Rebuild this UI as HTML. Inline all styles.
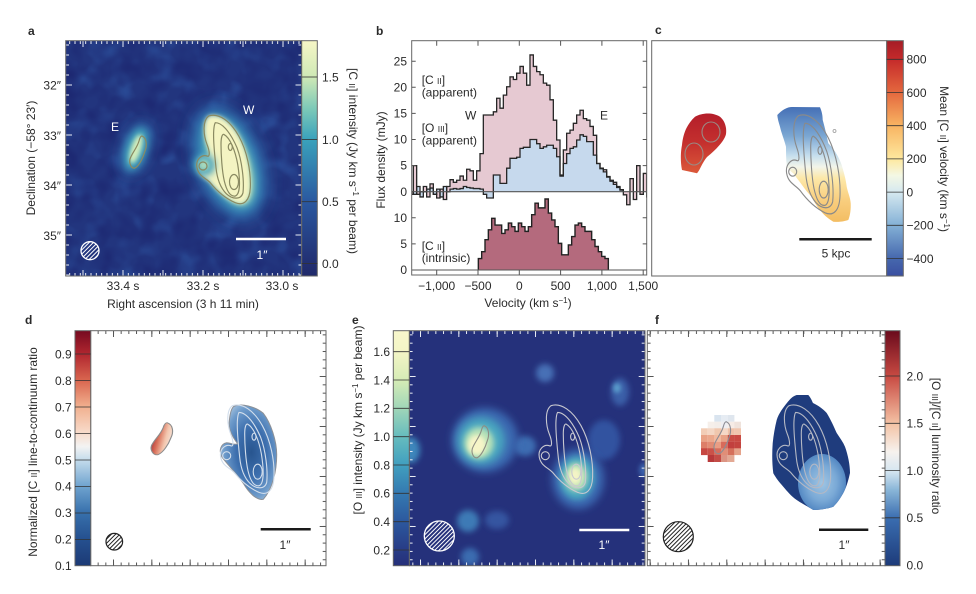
<!DOCTYPE html>
<html><head><meta charset="utf-8"><style>
body{margin:0;background:#fff}
svg{display:block}
text{font-family:"Liberation Sans",Arial,sans-serif;fill:#2a2a2a;font-size:12px}
</style></head><body>
<svg width="976" height="594" viewBox="0 0 976 594" xmlns="http://www.w3.org/2000/svg" xmlns:xlink="http://www.w3.org/1999/xlink">
<defs>
<linearGradient id="cbA" x1="0" y1="1" x2="0" y2="0">
<stop offset="0" stop-color="#202a6a"/><stop offset="0.053" stop-color="#222f72"/><stop offset="0.317" stop-color="#2a58a0"/><stop offset="0.582" stop-color="#3aa2bc"/><stop offset="0.71" stop-color="#7cc9b8"/><stop offset="0.847" stop-color="#cfe9b6"/><stop offset="1" stop-color="#f6f6c6"/>
</linearGradient>
<linearGradient id="cbC" x1="0" y1="1" x2="0" y2="0">
<stop offset="0" stop-color="#3a4fa0"/><stop offset="0.075" stop-color="#4668ae"/><stop offset="0.216" stop-color="#84b1d6"/><stop offset="0.357" stop-color="#d6e9f0"/><stop offset="0.427" stop-color="#f4f8e4"/><stop offset="0.498" stop-color="#fee89e"/><stop offset="0.639" stop-color="#f8b462"/><stop offset="0.78" stop-color="#e4683e"/><stop offset="0.921" stop-color="#c52a2a"/><stop offset="1" stop-color="#a51c26"/>
</linearGradient>
<linearGradient id="cbD" x1="0" y1="1" x2="0" y2="0">
<stop offset="0" stop-color="#1c3a75"/><stop offset="0.113" stop-color="#25508f"/><stop offset="0.225" stop-color="#3770ac"/><stop offset="0.338" stop-color="#6fa3cf"/><stop offset="0.451" stop-color="#c5dcec"/><stop offset="0.507" stop-color="#f3f3f3"/><stop offset="0.564" stop-color="#f8dccc"/><stop offset="0.676" stop-color="#f1b08f"/><stop offset="0.789" stop-color="#d9664f"/><stop offset="0.902" stop-color="#b0262f"/><stop offset="1" stop-color="#760a20"/>
</linearGradient>
<linearGradient id="cbE" x1="0" y1="1" x2="0" y2="0">
<stop offset="0" stop-color="#262f79"/><stop offset="0.067" stop-color="#283c86"/><stop offset="0.187" stop-color="#2c589e"/><stop offset="0.308" stop-color="#3479b1"/><stop offset="0.429" stop-color="#419fbf"/><stop offset="0.549" stop-color="#66bcbe"/><stop offset="0.67" stop-color="#a0d6b8"/><stop offset="0.79" stop-color="#d6ecb6"/><stop offset="0.911" stop-color="#f3f5c6"/><stop offset="1" stop-color="#f8f7cc"/>
</linearGradient>
<linearGradient id="cbF" x1="0" y1="1" x2="0" y2="0">
<stop offset="0" stop-color="#1d3b7a"/><stop offset="0.202" stop-color="#3a6db0"/><stop offset="0.323" stop-color="#8ab6d8"/><stop offset="0.403" stop-color="#d6e6f1"/><stop offset="0.484" stop-color="#f6f2ee"/><stop offset="0.605" stop-color="#f4c2a4"/><stop offset="0.806" stop-color="#c84a42"/><stop offset="1" stop-color="#6a0a1c"/>
</linearGradient>
<linearGradient id="gcW" gradientUnits="userSpaceOnUse" x1="0" y1="107" x2="0" y2="222">
<stop offset="0" stop-color="#4570b6"/><stop offset="0.25" stop-color="#7aa6d2"/><stop offset="0.42" stop-color="#c4dded"/><stop offset="0.52" stop-color="#f2f5ea"/><stop offset="0.62" stop-color="#fde8a8"/><stop offset="0.8" stop-color="#f9cf80"/><stop offset="1" stop-color="#f3bd62"/>
</linearGradient>
<linearGradient id="gcE" gradientUnits="userSpaceOnUse" x1="0" y1="112" x2="0" y2="174">
<stop offset="0" stop-color="#b31d2a"/><stop offset="0.5" stop-color="#c4302e"/><stop offset="1" stop-color="#dc5a3a"/>
</linearGradient>
<radialGradient id="gdW" cx="0.55" cy="0.5" r="0.6">
<stop offset="0" stop-color="#28558f"/><stop offset="0.45" stop-color="#3d6fae"/><stop offset="0.8" stop-color="#6f9ccb"/><stop offset="1" stop-color="#a9c4de"/>
</radialGradient>
<linearGradient id="gdE" x1="0" y1="0.3" x2="1" y2="0.7">
<stop offset="0" stop-color="#9e1f2e"/><stop offset="0.35" stop-color="#d8705a"/><stop offset="0.65" stop-color="#f3c6ae"/><stop offset="1" stop-color="#f7ece6"/>
</linearGradient>
<radialGradient id="gfW" cx="0.5" cy="0.5" r="0.55">
<stop offset="0" stop-color="#9fc5e3"/><stop offset="0.55" stop-color="#7aa9d6"/><stop offset="1" stop-color="#4a80be"/>
</radialGradient>
<pattern id="hw" width="3" height="3" patternUnits="userSpaceOnUse" patternTransform="rotate(-45)"><rect width="3" height="1" fill="#fff"/></pattern>
<pattern id="hk" width="3" height="3" patternUnits="userSpaceOnUse" patternTransform="rotate(-45)"><rect width="3" height="1" fill="#222"/></pattern>
<pattern id="tvW" patternUnits="userSpaceOnUse" x="122.5" y="0" width="5.333" height="600"><rect width="1" height="600" fill="#e8ecf4"/></pattern>
<pattern id="tvWM" patternUnits="userSpaceOnUse" x="122.5" y="0" width="40" height="600"><rect width="1" height="600" fill="#e8ecf4"/></pattern>
<pattern id="thW" patternUnits="userSpaceOnUse" x="0" y="84.5" width="600" height="10"><rect width="600" height="1" fill="#e8ecf4"/></pattern>
<pattern id="thWM" patternUnits="userSpaceOnUse" x="0" y="84.5" width="600" height="50"><rect width="600" height="1" fill="#e8ecf4"/></pattern>
<pattern id="tvE" patternUnits="userSpaceOnUse" x="420" y="0" width="7.67" height="600"><rect width="1" height="600" fill="#e8ecf4"/></pattern>
<pattern id="tvEM" patternUnits="userSpaceOnUse" x="420" y="0" width="38.33" height="600"><rect width="1" height="600" fill="#e8ecf4"/></pattern>
<pattern id="thE" patternUnits="userSpaceOnUse" x="0" y="376" width="600" height="8.33"><rect width="600" height="1" fill="#e8ecf4"/></pattern>
<pattern id="thEM" patternUnits="userSpaceOnUse" x="0" y="376" width="600" height="50"><rect width="600" height="1" fill="#e8ecf4"/></pattern>
<pattern id="tvK" patternUnits="userSpaceOnUse" x="113" y="0" width="7.67" height="600"><rect width="1" height="600" fill="#555"/></pattern>
<pattern id="tvKM" patternUnits="userSpaceOnUse" x="113" y="0" width="38.33" height="600"><rect width="1" height="600" fill="#555"/></pattern>
<pattern id="thK" patternUnits="userSpaceOnUse" x="0" y="376" width="600" height="8.33"><rect width="600" height="1" fill="#555"/></pattern>
<pattern id="thKM" patternUnits="userSpaceOnUse" x="0" y="376" width="600" height="50"><rect width="600" height="1" fill="#555"/></pattern>
<filter id="b2" x="-50%" y="-50%" width="200%" height="200%"><feGaussianBlur stdDeviation="2"/></filter>
<filter id="b3" x="-50%" y="-50%" width="200%" height="200%"><feGaussianBlur stdDeviation="3"/></filter>
<filter id="b4" x="-50%" y="-50%" width="200%" height="200%"><feGaussianBlur stdDeviation="4"/></filter>
<filter id="b6" x="-50%" y="-50%" width="200%" height="200%"><feGaussianBlur stdDeviation="6"/></filter>
<filter id="b8" x="-50%" y="-50%" width="200%" height="200%"><feGaussianBlur stdDeviation="8"/></filter>
<filter id="noiseL" x="0" y="0" width="1" height="1" color-interpolation-filters="sRGB">
<feTurbulence type="fractalNoise" baseFrequency="0.045" numOctaves="2" seed="7"/>
<feColorMatrix type="matrix" values="0 0 0 0 0.18  0 0 0 0 0.34  0 0 0 0 0.64  1.9 0 0 0 -0.9"/>
</filter>
<filter id="noiseD" x="0" y="0" width="1" height="1" color-interpolation-filters="sRGB">
<feTurbulence type="fractalNoise" baseFrequency="0.05" numOctaves="2" seed="19"/>
<feColorMatrix type="matrix" values="0 0 0 0 0.11  0 0 0 0 0.15  0 0 0 0 0.44  0 1.8 0 0 -0.65"/>
</filter>
<clipPath id="clA"><rect x="65.7" y="40.7" width="236" height="235.3"/></clipPath>
<clipPath id="clB"><rect x="411.7" y="40.7" width="235" height="234.3"/></clipPath>
<clipPath id="clE"><rect x="409.3" y="330.7" width="235.7" height="235"/></clipPath>
<path id="pWo" d="M141.7,75 C151.7,71.7 163.3,80 171.7,95 C180,110 184,130 183.3,146.7 C182.7,160 176.7,165 168.3,161.7 C158.3,157.3 150,150 143.3,141.7 C138.3,136.7 131.7,135 130,126.7 C128.3,118.3 135,113.3 140,115 C143.3,116.7 142.7,110 140,103.3 C136.7,95 135,80 141.7,75 Z"/>
<path id="pE" d="M75,95 C80,97 80,105 78,110 C76,117 72,125 68,127 C64,128 62,122 63,118 C65,112 70,107 72,100 C73,96 74,95 75,95 Z"/>
<g id="cW" fill="none">
<use xlink:href="#pWo"/>
<path d="M148.3,81.7 C156.7,81.7 165,95 170,106.7 C175,120 177.3,140 176,151.7 C174,159.3 165,158.3 159.3,152.7 C153.3,146.7 150,136.7 149,126.7 C148,116.7 146,100 146.7,90 C147,85 147.7,82.7 148.3,81.7 Z"/>
<path d="M156.7,93.3 C163.3,96.7 168.3,110 170.7,123.3 C173.3,140 173.3,153.3 168.3,155 C162.7,156 159.3,148.3 157.3,140 C155,130 154,113.3 154,103.3 C154,97.3 155,93.3 156.7,93.3 Z"/>
<ellipse cx="163.3" cy="106" rx="2" ry="3.5"/>
<ellipse cx="167" cy="141" rx="4.5" ry="7.5"/>
<circle cx="136" cy="125" r="4"/>
</g>
<clipPath id="clFW"><path d="M796.7,395 L808.3,395 C811,398 812,401 813,403 C819,406 823,409 826.7,413 C831,420 834,427 836.7,433 C840,438 843,442 845,446.7 C848,455 850,465 850,473 C848,482 846,488 843.3,493 C840,499 837,503 833.3,506.7 C826,509 820,510 813.3,510 C807,506 801,503 796.7,500 C791,496 787,491 783.3,486.7 C779,482 776,478 773.3,473.3 C772,463 772,453 772.7,443.3 C773.5,435 775,427 776.7,420 C779,413 783,408 786.7,403.3 C790,399 793,396 796.7,395 Z"/></clipPath>
</defs>

<rect width="976" height="594" fill="#fff"/>

<!-- ============ PANEL A ============ -->
<text x="28" y="35" font-weight="bold" font-size="13">a</text>
<g clip-path="url(#clA)">
<rect x="65.7" y="40.7" width="236" height="235.3" fill="#22357e"/>
<rect x="65.7" y="40.7" width="236" height="235.3" fill="#000" filter="url(#noiseL)"/>
<rect x="65.7" y="40.7" width="236" height="235.3" fill="#000" filter="url(#noiseD)"/>
<ellipse cx="229" cy="163" rx="34" ry="60" transform="rotate(-20 229 163)" fill="#2f66aa" filter="url(#b8)"/>
<ellipse cx="229" cy="163" rx="26" ry="51" transform="rotate(-20 229 163)" fill="#3c9dbd" filter="url(#b6)"/>
<ellipse cx="230" cy="163" rx="19" ry="44" transform="rotate(-20 230 163)" fill="#a5d9b9" filter="url(#b4)"/>
<use xlink:href="#pWo" transform="translate(67,41)" fill="#f4f4c2" filter="url(#b2)"/>
<circle cx="204" cy="165" r="11" fill="#3c9dbd" filter="url(#b4)"/>
<circle cx="204" cy="165" r="5.5" fill="#a8dabb" filter="url(#b2)"/>
<ellipse cx="136" cy="149" rx="14" ry="28" transform="rotate(18 136 149)" fill="#2f66aa" filter="url(#b6)"/>
<ellipse cx="136" cy="149" rx="10" ry="22" transform="rotate(18 136 149)" fill="#45a8bd" filter="url(#b4)"/>
<ellipse cx="136" cy="149" rx="5" ry="15" transform="rotate(18 136 149)" fill="#d2ecbc" filter="url(#b2)"/>
<use xlink:href="#cW" transform="translate(67,41)" stroke="#8a8a62" stroke-width="1.2"/>
<use xlink:href="#pE" transform="translate(67,41)" fill="none" stroke="#8a8a62" stroke-width="1.2"/>
<circle cx="90" cy="250.7" r="9" fill="url(#hw)" stroke="#fff" stroke-width="1.3"/>
<line x1="236" y1="239" x2="286" y2="239" stroke="#fff" stroke-width="2.5"/>
</g>
<text x="262" y="259" text-anchor="middle" style="fill:#fff">1″</text>
<text x="111" y="131" style="fill:#fff">E</text>
<text x="243" y="114" style="fill:#fff">W</text>
<rect x="65.7" y="41" width="236" height="3" fill="url(#tvW)"/>
<rect x="65.7" y="41" width="236" height="6" fill="url(#tvWM)"/>
<rect x="65.7" y="273" width="236" height="3" fill="url(#tvW)"/>
<rect x="65.7" y="270" width="236" height="6" fill="url(#tvWM)"/>
<rect x="66" y="40.7" width="3" height="235" fill="url(#thW)"/>
<rect x="66" y="40.7" width="6" height="235" fill="url(#thWM)"/>
<rect x="298.5" y="40.7" width="3" height="235" fill="url(#thW)"/>
<rect x="295.5" y="40.7" width="6" height="235" fill="url(#thWM)"/>
<rect x="65.7" y="40.7" width="236" height="235.3" fill="none" stroke="#666" stroke-width="1"/>
<rect x="301.7" y="40.7" width="15.6" height="235.3" fill="url(#cbA)" stroke="#666" stroke-width="1"/>
<g stroke="#333" stroke-width="0.8"><line x1="301.7" y1="77" x2="317.3" y2="77"/><line x1="301.7" y1="139.5" x2="317.3" y2="139.5"/><line x1="301.7" y1="201.7" x2="317.3" y2="201.7"/><line x1="301.7" y1="263.5" x2="317.3" y2="263.5"/></g>
<text x="322" y="81.3">1.5</text><text x="322" y="143.8">1.0</text><text x="322" y="206">0.5</text><text x="322" y="267.8">0.0</text>
<text transform="translate(349,161) rotate(90)" text-anchor="middle">[C <tspan font-size="8.5">II</tspan>] intensity (Jy km s<tspan dy="-4" font-size="8">−1</tspan><tspan dy="4"> per beam)</tspan></text>
<text x="61" y="89.3" text-anchor="end">32″</text><text x="61" y="140" text-anchor="end">33″</text><text x="61" y="190" text-anchor="end">34″</text><text x="61" y="240" text-anchor="end">35″</text>
<text x="123" y="290" text-anchor="middle">33.4 s</text><text x="203" y="290" text-anchor="middle">33.2 s</text><text x="282" y="290" text-anchor="middle">33.0 s</text>
<text x="183" y="308" text-anchor="middle">Right ascension (3 h 11 min)</text>
<text transform="translate(35,158) rotate(-90)" text-anchor="middle">Declination (−58° 23′)</text>

<!-- ============ PANEL B ============ -->
<text x="376" y="35" font-weight="bold" font-size="13">b</text>
<g clip-path="url(#clB)">
<path transform="matrix(3.3333,0,0,-5.22,410,191.7)" fill="#e6c9d2" d="M0,0 V-0.5 H1 V5 H2 V-0.5 H3 V0 H4 V1 H5 V-1 H6 V1.5 H7 V-0.5 H8 V-1.2 H9 V0.5 H10 V-1.5 H11 V1 H12 V2.3 H13 V1.8 H14 V2.2 H15 V3 H16 V2.2 H17 V4.3 H18 V4 H19 V2.2 H20 V4 H21 V7.3 H22 V14.7 H25 V15.3 H26 V17.9 H27 V16 H28 V18.5 H29 V20.1 H30 V22 H31 V21.5 H32 V22.7 H33 V24 H34 V22.7 H35 V20.4 H36 V26.2 H37 V24 H38 V23 H39 V22.4 H40 V20.8 H41 V20.4 H42 V17.6 H43 V13.7 H44 V9.9 H45 V3.2 H46 V8 H47 V11.2 H48 V11.8 H49 V13.1 H50 V14.7 H51 V15.6 H52 V14 H53 V13.7 H54 V12.5 H55 V10.8 H56 V5.4 H57 V4.5 H58 V4.2 H59 V2.9 H60 V2.2 H61 V1.8 H62 V1 H63 V0.4 H64 V-0.6 H65 V-2.5 H66 V2.5 H67 V-1.5 H68 V5 H69 V-0.5 H70 V3.5 H71 V-1 H72 V0 Z"/>
<path transform="matrix(3.3333,0,0,-5.22,410,191.7)" fill="#c6d9ed" d="M0,0 H1 V-0.5 H2 V1 H3 V-1 H4 V0 H5 V0.5 H6 V0.7 H7 V-0.5 H8 V0.5 H9 V-1 H10 V1 H11 V0 H12 V0.5 H13 V0.6 H14 V0.5 H15 V0.6 H16 V1 H17 V0.8 H18 V0.7 H19 V0.6 H21 V0.5 H22 V-0.5 H23 V-1.2 H25 V3.2 H27 V1.6 H29 V4.5 H30 V6.4 H32 V6.6 H33 V8.3 H34 V8.5 H36 V10 H38 V9.2 H39 V8.3 H40 V8.6 H41 V8.9 H43 V8.3 H44 V6.7 H45 V3 H46 V5.4 H47 V7.3 H48 V8.3 H49 V8.6 H50 V9.9 H51 V10.9 H52 V10.6 H53 V9.6 H55 V7 H56 V5.4 H57 V4.4 H58 V3.8 H59 V2.8 H60 V2 H61 V1.4 H62 V0.8 H63 V0.3 H64 V0 H72 Z"/>
<path transform="matrix(3.3333,0,0,-5.22,410,191.7)" fill="none" stroke="#262626" stroke-width="1.3" vector-effect="non-scaling-stroke" d="M0,0 V-0.5 H1 V5 H2 V-0.5 H3 V0 H4 V1 H5 V-1 H6 V1.5 H7 V-0.5 H8 V-1.2 H9 V0.5 H10 V-1.5 H11 V1 H12 V2.3 H13 V1.8 H14 V2.2 H15 V3 H16 V2.2 H17 V4.3 H18 V4 H19 V2.2 H20 V4 H21 V7.3 H22 V14.7 H25 V15.3 H26 V17.9 H27 V16 H28 V18.5 H29 V20.1 H30 V22 H31 V21.5 H32 V22.7 H33 V24 H34 V22.7 H35 V20.4 H36 V26.2 H37 V24 H38 V23 H39 V22.4 H40 V20.8 H41 V20.4 H42 V17.6 H43 V13.7 H44 V9.9 H45 V3.2 H46 V8 H47 V11.2 H48 V11.8 H49 V13.1 H50 V14.7 H51 V15.6 H52 V14 H53 V13.7 H54 V12.5 H55 V10.8 H56 V5.4 H57 V4.5 H58 V4.2 H59 V2.9 H60 V2.2 H61 V1.8 H62 V1 H63 V0.4 H64 V-0.6 H65 V-2.5 H66 V2.5 H67 V-1.5 H68 V5 H69 V-0.5 H70 V3.5 H71 V-1 H72 V0"/>
<path transform="matrix(3.3333,0,0,-5.22,410,191.7)" fill="none" stroke="#262626" stroke-width="1.3" vector-effect="non-scaling-stroke" d="M0,0 H1 V-0.5 H2 V1 H3 V-1 H4 V0 H5 V0.5 H6 V0.7 H7 V-0.5 H8 V0.5 H9 V-1 H10 V1 H11 V0 H12 V0.5 H13 V0.6 H14 V0.5 H15 V0.6 H16 V1 H17 V0.8 H18 V0.7 H19 V0.6 H21 V0.5 H22 V-0.5 H23 V-1.2 H25 V3.2 H27 V1.6 H29 V4.5 H30 V6.4 H32 V6.6 H33 V8.3 H34 V8.5 H36 V10 H38 V9.2 H39 V8.3 H40 V8.6 H41 V8.9 H43 V8.3 H44 V6.7 H45 V3 H46 V5.4 H47 V7.3 H48 V8.3 H49 V8.6 H50 V9.9 H51 V10.9 H52 V10.6 H53 V9.6 H55 V7 H56 V5.4 H57 V4.4 H58 V3.8 H59 V2.8 H60 V2 H61 V1.4 H62 V0.8 H63 V0.3 H64 V0"/>
<path transform="matrix(3.3333,0,0,-5.22,410,270)" fill="#b46a7d" d="M20.5,0 V2.2 H21.5 V3.5 H22.5 V5.8 H23.5 V7.7 H24.5 V9.9 H25.5 V8.6 H27.5 V7 H28.5 V7.7 H29.5 V9 H30.5 V8.3 H31.5 V7.4 H32.5 V9 H33.5 V8.3 H34.5 V7.4 H35.5 V8.3 H36.5 V10.6 H37.5 V12.8 H38.5 V11.9 H40.5 V13.6 H41.5 V10.9 H42.5 V9.6 H43.5 V8.3 H44.5 V5.1 H45.5 V2.9 H47.5 V4.8 H48.5 V6.4 H49.5 V8.6 H50.5 V9 H51.5 V8.3 H52.5 V7.4 H54.5 V5.8 H55.5 V4.5 H56.5 V3.5 H57.5 V2.6 H58.5 V2.2 H59.5 V0 Z"/>
<path transform="matrix(3.3333,0,0,-5.22,410,270)" fill="none" stroke="#222" stroke-width="1.4" vector-effect="non-scaling-stroke" d="M20.5,0 V2.2 H21.5 V3.5 H22.5 V5.8 H23.5 V7.7 H24.5 V9.9 H25.5 V8.6 H27.5 V7 H28.5 V7.7 H29.5 V9 H30.5 V8.3 H31.5 V7.4 H32.5 V9 H33.5 V8.3 H34.5 V7.4 H35.5 V8.3 H36.5 V10.6 H37.5 V12.8 H38.5 V11.9 H40.5 V13.6 H41.5 V10.9 H42.5 V9.6 H43.5 V8.3 H44.5 V5.1 H45.5 V2.9 H47.5 V4.8 H48.5 V6.4 H49.5 V8.6 H50.5 V9 H51.5 V8.3 H52.5 V7.4 H54.5 V5.8 H55.5 V4.5 H56.5 V3.5 H57.5 V2.6 H58.5 V2.2 H59.5 V0"/>
</g>
<line x1="411.7" y1="191.7" x2="646.7" y2="191.7" stroke="#555" stroke-width="1.2"/>
<line x1="411.7" y1="270" x2="646.7" y2="270" stroke="#555" stroke-width="1"/>
<rect x="411.7" y="40.7" width="235" height="234.3" fill="none" stroke="#666" stroke-width="1"/>
<g stroke="#555" stroke-width="1">
<path d="M436.7,40.7 v5 M478,40.7 v5 M519.3,40.7 v5 M560.6,40.7 v5 M601.9,40.7 v5 M643.2,40.7 v5"/>
<path d="M436.7,275 v-5 M478,275 v-5 M519.3,275 v-5 M560.6,275 v-5 M601.9,275 v-5 M643.2,275 v-5"/>
<path d="M411.7,61.2 h4 M411.7,87.3 h4 M411.7,113.4 h4 M411.7,139.5 h4 M411.7,165.6 h4 M411.7,217.8 h4 M411.7,243.9 h4"/>
<path d="M646.7,61.2 h-4 M646.7,87.3 h-4 M646.7,113.4 h-4 M646.7,139.5 h-4 M646.7,165.6 h-4 M646.7,217.8 h-4 M646.7,243.9 h-4"/>
</g>
<text x="407" y="65.3" text-anchor="end">25</text><text x="407" y="91.4" text-anchor="end">20</text><text x="407" y="117.5" text-anchor="end">15</text><text x="407" y="143.6" text-anchor="end">10</text><text x="407" y="169.7" text-anchor="end">5</text><text x="407" y="195.8" text-anchor="end">0</text>
<text x="407" y="222" text-anchor="end">10</text><text x="407" y="248" text-anchor="end">5</text><text x="407" y="274.2" text-anchor="end">0</text>
<text x="436.7" y="290" text-anchor="middle">−1,000</text><text x="478" y="290" text-anchor="middle">−500</text><text x="519.3" y="290" text-anchor="middle">0</text><text x="560.6" y="290" text-anchor="middle">500</text><text x="601.9" y="290" text-anchor="middle">1,000</text><text x="643.2" y="290" text-anchor="middle">1,500</text>
<text x="528" y="307" text-anchor="middle">Velocity (km s<tspan dy="-4" font-size="8">−1</tspan><tspan dy="4">)</tspan></text>
<text transform="translate(385,160) rotate(-90)" text-anchor="middle">Flux density (mJy)</text>
<text x="421.7" y="84">[C <tspan font-size="8.5">II</tspan>]</text>
<text x="421.7" y="96.5">(apparent)</text>
<text x="465" y="119.5">W</text>
<text x="421.7" y="132">[O <tspan font-size="8.5">III</tspan>]</text>
<text x="421.7" y="144.5">(apparent)</text>
<text x="600" y="119.5">E</text>
<text x="421.7" y="250">[C <tspan font-size="8.5">II</tspan>]</text>
<text x="421.7" y="262">(intrinsic)</text>

<!-- ============ PANEL C ============ -->
<text x="655" y="34" font-weight="bold" font-size="13">c</text>
<rect x="651.7" y="40.7" width="235" height="235.3" fill="#fff" stroke="#666" stroke-width="1"/>
<path fill="url(#gcE)" d="M695,116.7 C702,113 712,112 720,116.7 C724,120 727,126 726,134 C725,140 716,150 707,157 C702,163 700,170 697,173.3 L682,170 C680,160 681,150 682,145 C683,135 686,125 695,116.7 Z"/>
<path fill="url(#gcW)" d="M777.3,115 C782,110 787,107 792,107 L820,107.3 C822,112 822.7,116 822.7,120 C825,128 827,137 828.3,143.3 C835,150 839,158 841.7,165 C844,173 846,180 846.7,186.7 C848,193 850.5,198 850.7,203.3 C851,210 850,216 848.3,220 C842,222 838,222 833.3,221.7 C827,218 823,214 820,210 C816,205 813,200 811.7,196.7 C807,192 805,189 803.3,186.7 C799,181 796,177 793.3,173.3 C789,170 787,167 786.7,165 C786,158 786,152 786,146.7 C784,139 781,132 780,126.7 C778.5,122 777.5,118 777.3,115 Z"/>
<use xlink:href="#cW" transform="matrix(1,0,0,1.12,656.7,31.7)" stroke="#8a8a8a" stroke-width="1.1"/>
<g fill="none" stroke="#9a8a84" stroke-width="1.1"><ellipse cx="711" cy="132" rx="9" ry="10"/><ellipse cx="694" cy="154" rx="9" ry="11"/></g>
<circle cx="834.5" cy="131" r="1.5" fill="none" stroke="#999" stroke-width="0.8"/>
<line x1="799.3" y1="239.3" x2="871.7" y2="239.3" stroke="#1a1a1a" stroke-width="2.5"/>
<text x="836" y="257.5" text-anchor="middle">5 kpc</text>
<rect x="886.7" y="40.7" width="16.6" height="235.3" fill="url(#cbC)" stroke="#666" stroke-width="1"/>
<g stroke="#333" stroke-width="0.8"><path d="M886.7,59.3 h16.6 M886.7,92.5 h16.6 M886.7,125.7 h16.6 M886.7,158.9 h16.6 M886.7,192.1 h16.6 M886.7,225.3 h16.6 M886.7,258.5 h16.6"/></g>
<text x="906.5" y="63.6">800</text><text x="906.5" y="96.8">600</text><text x="906.5" y="130">400</text><text x="906.5" y="163.2">200</text><text x="906.5" y="196.4">0</text><text x="906.5" y="229.6">−200</text><text x="906.5" y="262.8">−400</text>
<text transform="translate(940,159) rotate(90)" text-anchor="middle">Mean [C <tspan font-size="8.5">II</tspan>] velocity (km s<tspan dy="-4" font-size="8">−1</tspan><tspan dy="4">)</tspan></text>

<!-- ============ PANEL D ============ -->
<text x="25" y="324" font-weight="bold" font-size="13">d</text>
<rect x="90.7" y="330.7" width="235.3" height="235" fill="#fff"/>
<path transform="translate(90.7,330.7)" fill="url(#gdW)" stroke="#8c9096" stroke-width="1" d="M142.7,76 C150,72 165,76 172.6,82.6 C180,92 186,110 186,124 C186,140 182,158 172.6,168.6 C166,170 158,162 152.6,152.6 C146,143 136,133 131,126 C128,120 130,113 136,112 C140,112 144,115 147,113 C143,108 138,100 138.5,92 C139,84 140,79 142.7,76 Z"/>
<use xlink:href="#cW" transform="translate(90.7,330.7)" stroke="#d2deec" stroke-width="1.1"/>
<use xlink:href="#pE" transform="translate(90.7,327.7) translate(70.5,0) scale(1.3,1) translate(-70.5,0)" fill="url(#gdE)" stroke="#8c8c8c" stroke-width="0.9"/>
<circle cx="114.3" cy="541.7" r="8.3" fill="url(#hk)" stroke="#222" stroke-width="1.2"/>
<line x1="260.7" y1="529.3" x2="310.7" y2="529.3" stroke="#1a1a1a" stroke-width="2.5"/>
<text x="285" y="549" text-anchor="middle">1″</text>
<rect x="90.7" y="331" width="235.3" height="3" fill="url(#tvK)"/>
<rect x="90.7" y="331" width="235.3" height="6" fill="url(#tvKM)"/>
<rect x="90.7" y="562.5" width="235.3" height="3" fill="url(#tvK)"/>
<rect x="90.7" y="559.5" width="235.3" height="6" fill="url(#tvKM)"/>
<rect x="322.7" y="330.7" width="3" height="235" fill="url(#thK)"/>
<rect x="319.7" y="330.7" width="6" height="235" fill="url(#thKM)"/>
<rect x="90.7" y="330.7" width="235.3" height="235" fill="none" stroke="#666" stroke-width="1"/>
<rect x="75" y="330.7" width="15.7" height="235" fill="url(#cbD)" stroke="#666" stroke-width="1"/>
<g stroke="#333" stroke-width="0.8"><path d="M75,354 h15.7 M75,380.5 h15.7 M75,407 h15.7 M75,433.5 h15.7 M75,460 h15.7 M75,486.5 h15.7 M75,513 h15.7 M75,539.5 h15.7"/></g>
<text x="71.7" y="358.3" text-anchor="end">0.9</text><text x="71.7" y="385" text-anchor="end">0.8</text><text x="71.7" y="411.6" text-anchor="end">0.7</text><text x="71.7" y="437.8" text-anchor="end">0.6</text><text x="71.7" y="464.3" text-anchor="end">0.5</text><text x="71.7" y="490.3" text-anchor="end">0.4</text><text x="71.7" y="517" text-anchor="end">0.3</text><text x="71.7" y="543.6" text-anchor="end">0.2</text><text x="71.7" y="570" text-anchor="end">0.1</text>
<text transform="translate(37,452) rotate(-90)" text-anchor="middle">Normalized [C <tspan font-size="8.5">II</tspan>] line-to-continuum ratio</text>

<!-- ============ PANEL E ============ -->
<text x="352" y="324" font-weight="bold" font-size="13">e</text>
<g clip-path="url(#clE)">
<rect x="409.3" y="330.7" width="235.7" height="235" fill="#25317b"/>
<ellipse cx="545" cy="373" rx="9" ry="9" fill="#4670b6" filter="url(#b3)"/>
<ellipse cx="620" cy="392" rx="9" ry="14" fill="#3b5fa8" filter="url(#b3)"/>
<ellipse cx="617" cy="388" rx="4" ry="5" fill="#5a9ccc" filter="url(#b2)"/>
<ellipse cx="604" cy="440" rx="16" ry="20" fill="#3152a0" filter="url(#b3)"/>
<ellipse cx="411" cy="450" rx="9" ry="13" fill="#3e86bb" filter="url(#b3)"/>
<ellipse cx="468" cy="521" rx="11" ry="11" fill="#3d7ab6" filter="url(#b3)"/>
<ellipse cx="497" cy="520" rx="12" ry="9" fill="#3455a0" filter="url(#b3)"/>
<ellipse cx="470" cy="557" rx="9" ry="9" fill="#3a6cb0" filter="url(#b3)"/>
<ellipse cx="644" cy="470" rx="5" ry="7" fill="#3a62ac" filter="url(#b2)"/>
<ellipse cx="525" cy="446" rx="11" ry="10" fill="#3d6db2" filter="url(#b3)"/>
<ellipse cx="485" cy="440" rx="33" ry="32" fill="#3b68b0" filter="url(#b4)"/>
<ellipse cx="481" cy="441" rx="24" ry="24" fill="#48a6c0" filter="url(#b4)"/>
<ellipse cx="479" cy="443" rx="15" ry="16" fill="#b8e2b8" filter="url(#b3)"/>
<ellipse cx="477" cy="445" rx="9" ry="10" fill="#f6f5c8" filter="url(#b2)"/>
<ellipse cx="578" cy="479" rx="26" ry="30" fill="#3b68b0" filter="url(#b4)"/>
<ellipse cx="577" cy="478" rx="18" ry="22" fill="#48a6c0" filter="url(#b3)"/>
<ellipse cx="576" cy="477" rx="11" ry="14" fill="#c4e6b6" filter="url(#b3)"/>
<ellipse cx="575" cy="476" rx="6" ry="8" fill="#f4f4c6" filter="url(#b2)"/>
<use xlink:href="#cW" transform="translate(409.3,330.7)" stroke="#c8c8d0" stroke-width="1.1"/>
<use xlink:href="#pE" transform="translate(409.3,330.7)" fill="none" stroke="#8e8e84" stroke-width="1.1"/>
<circle cx="439.3" cy="536" r="15" fill="url(#hw)" stroke="#fff" stroke-width="1.3"/>
<line x1="579.3" y1="530" x2="629.3" y2="530" stroke="#fff" stroke-width="2.5"/>
</g>
<text x="604" y="549" text-anchor="middle" style="fill:#fff">1″</text>
<rect x="409.3" y="331" width="235.7" height="3" fill="url(#tvE)"/>
<rect x="409.3" y="331" width="235.7" height="6" fill="url(#tvEM)"/>
<rect x="409.3" y="562.5" width="235.7" height="3" fill="url(#tvE)"/>
<rect x="409.3" y="559.5" width="235.7" height="6" fill="url(#tvEM)"/>
<rect x="409.6" y="330.7" width="3" height="235" fill="url(#thE)"/>
<rect x="409.6" y="330.7" width="6" height="235" fill="url(#thEM)"/>
<rect x="641.7" y="330.7" width="3" height="235" fill="url(#thE)"/>
<rect x="638.7" y="330.7" width="6" height="235" fill="url(#thEM)"/>
<rect x="409.3" y="330.7" width="235.7" height="235" fill="none" stroke="#666" stroke-width="1"/>
<rect x="393.3" y="330.7" width="16" height="235" fill="url(#cbE)" stroke="#666" stroke-width="1"/>
<g stroke="#333" stroke-width="0.8"><path d="M393.3,351.7 h16 M393.3,380 h16 M393.3,408.3 h16 M393.3,436.7 h16 M393.3,465 h16 M393.3,493.3 h16 M393.3,521.7 h16 M393.3,550 h16"/></g>
<text x="390" y="356" text-anchor="end">1.6</text><text x="390" y="384.3" text-anchor="end">1.4</text><text x="390" y="412.6" text-anchor="end">1.2</text><text x="390" y="441" text-anchor="end">1.0</text><text x="390" y="469.3" text-anchor="end">0.8</text><text x="390" y="497.6" text-anchor="end">0.6</text><text x="390" y="526" text-anchor="end">0.4</text><text x="390" y="554.3" text-anchor="end">0.2</text>
<text transform="translate(362,420) rotate(-90)" text-anchor="middle">[O <tspan font-size="8.5">III</tspan>] intensity (Jy km s<tspan dy="-4" font-size="8">−1</tspan><tspan dy="4"> per beam)</tspan></text>

<!-- ============ PANEL F ============ -->
<text x="655" y="324" font-weight="bold" font-size="13">f</text>
<rect x="647.3" y="330.7" width="237.7" height="235" fill="#fff"/>
<g>
<rect x="714.3" y="415" width="6.7" height="6.8" fill="#d9e4ef"/><rect x="721" y="415" width="6.7" height="6.8" fill="#e6ecf3"/><rect x="727.7" y="415" width="6.7" height="6.8" fill="#dfe6ee"/>
<rect x="707.7" y="421.7" width="6.7" height="6.8" fill="#f6efea"/><rect x="714.3" y="421.7" width="6.7" height="6.8" fill="#f3ede9"/><rect x="721" y="421.7" width="6.7" height="6.8" fill="#eeeef2"/><rect x="727.7" y="421.7" width="6.7" height="6.8" fill="#f6ece6"/><rect x="734.3" y="421.7" width="6.7" height="6.8" fill="#efe3dc"/>
<rect x="701" y="428.3" width="6.7" height="6.8" fill="#f2cdb6"/><rect x="707.7" y="428.3" width="6.7" height="6.8" fill="#f4d6c4"/><rect x="714.3" y="428.3" width="6.7" height="6.8" fill="#f0c7ae"/><rect x="721" y="428.3" width="6.7" height="6.8" fill="#f5d8c6"/><rect x="727.7" y="428.3" width="6.7" height="6.8" fill="#efc1a8"/><rect x="734.3" y="428.3" width="6.7" height="6.8" fill="#f0c6ae"/>
<rect x="701" y="435" width="6.7" height="6.8" fill="#e9a285"/><rect x="707.7" y="435" width="6.7" height="6.8" fill="#eba88c"/><rect x="714.3" y="435" width="6.7" height="6.8" fill="#f1b99f"/><rect x="721" y="435" width="6.7" height="6.8" fill="#e8a286"/><rect x="727.7" y="435" width="6.7" height="6.8" fill="#c94d45"/><rect x="734.3" y="435" width="6.7" height="6.8" fill="#c94a43"/>
<rect x="701" y="441.7" width="6.7" height="6.8" fill="#dd7e68"/><rect x="707.7" y="441.7" width="6.7" height="6.8" fill="#e28c74"/><rect x="714.3" y="441.7" width="6.7" height="6.8" fill="#e99d84"/><rect x="721" y="441.7" width="6.7" height="6.8" fill="#d86b5a"/><rect x="727.7" y="441.7" width="6.7" height="6.8" fill="#c2403e"/><rect x="734.3" y="441.7" width="6.7" height="6.8" fill="#c4443f"/>
<rect x="701" y="448.3" width="6.7" height="6.8" fill="#c74842"/><rect x="707.7" y="448.3" width="6.7" height="6.8" fill="#cb5249"/><rect x="714.3" y="448.3" width="6.7" height="6.8" fill="#d66e5d"/><rect x="721" y="448.3" width="6.7" height="6.8" fill="#e18e77"/><rect x="727.7" y="448.3" width="6.7" height="6.8" fill="#d5705c"/><rect x="734.3" y="448.3" width="6.7" height="6.8" fill="#e5a38b"/>
<rect x="707.7" y="455" width="6.7" height="7" fill="#b8393a"/><rect x="714.3" y="455" width="6.7" height="7" fill="#c44c46"/><rect x="721" y="455" width="6.7" height="7" fill="#dc9483"/><rect x="727.7" y="455" width="6.7" height="7" fill="#e3a994"/>
</g>
<rect x="770" y="393" width="82" height="120" fill="#1f3c7d" clip-path="url(#clFW)"/>
<ellipse cx="822" cy="483" rx="24" ry="29" fill="url(#gfW)" clip-path="url(#clFW)"/>
<use xlink:href="#cW" transform="translate(647.3,330.7)" stroke="#b4b8c4" stroke-width="1.1"/>
<use xlink:href="#pE" transform="translate(651.3,326.7)" fill="none" stroke="#8c8c94" stroke-width="1.1"/>
<circle cx="678.3" cy="536.7" r="15" fill="url(#hk)" stroke="#222" stroke-width="1.2"/>
<line x1="819" y1="529.7" x2="868.3" y2="529.7" stroke="#1a1a1a" stroke-width="2.5"/>
<text x="844" y="549" text-anchor="middle">1″</text>
<rect x="647.3" y="331" width="237.7" height="3" fill="url(#tvK)"/>
<rect x="647.3" y="331" width="237.7" height="6" fill="url(#tvKM)"/>
<rect x="647.3" y="562.5" width="237.7" height="3" fill="url(#tvK)"/>
<rect x="647.3" y="559.5" width="237.7" height="6" fill="url(#tvKM)"/>
<rect x="647.6" y="330.7" width="3" height="235" fill="url(#thK)"/>
<rect x="647.6" y="330.7" width="6" height="235" fill="url(#thKM)"/>
<rect x="881.7" y="330.7" width="3" height="235" fill="url(#thK)"/>
<rect x="878.7" y="330.7" width="6" height="235" fill="url(#thKM)"/>
<rect x="647.3" y="330.7" width="237.7" height="235" fill="none" stroke="#666" stroke-width="1"/>
<rect x="885" y="330.7" width="15" height="235" fill="url(#cbF)" stroke="#666" stroke-width="1"/>
<g stroke="#333" stroke-width="0.8"><path d="M885,376 h15 M885,423.3 h15 M885,470.5 h15 M885,517.8 h15"/></g>
<text x="906.5" y="380.3">2.0</text><text x="906.5" y="427.6">1.5</text><text x="906.5" y="474.8">1.0</text><text x="906.5" y="522">0.5</text><text x="906.5" y="569.3">0.0</text>
<text transform="translate(932,446) rotate(90)" text-anchor="middle">[O <tspan font-size="8.5">III</tspan>]/[C <tspan font-size="8.5">II</tspan>] luminosity ratio</text>
</svg>
</body></html>
